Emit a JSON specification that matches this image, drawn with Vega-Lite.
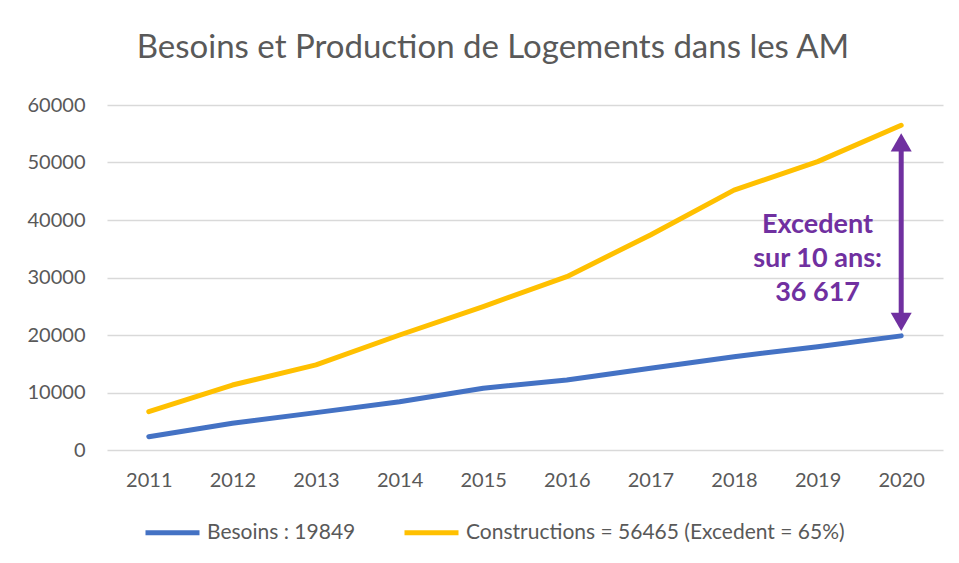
{
  "$schema": "https://vega.github.io/schema/vega-lite/v6.json",
  "autosize": "none",
  "width": 836,
  "height": 345,
  "padding": {"left": 107, "top": 105, "right": 16, "bottom": 113},
  "background": "white",
  "config": {
    "font": "Lato",
    "view": {"stroke": null},
    "axis": {"labelColor": "#595959", "labelFontSize": 20, "ticks": false, "domain": false, "gridColor": "#d9d9d9", "gridWidth": 1.5}
  },
  "title": {
    "text": "Besoins et Production de Logements dans les AM",
    "fontSize": 33,
    "fontWeight": "normal",
    "color": "#595959",
    "anchor": "middle",
    "baseline": "alphabetic",
    "offset": 4,
    "dx": -32
  },
  "datasets": {
    "series": [
      {"year": "2011", "serie": "Besoins : 19849", "value": 2310},
      {"year": "2012", "serie": "Besoins : 19849", "value": 4640},
      {"year": "2013", "serie": "Besoins : 19849", "value": 6500},
      {"year": "2014", "serie": "Besoins : 19849", "value": 8400},
      {"year": "2015", "serie": "Besoins : 19849", "value": 10750},
      {"year": "2016", "serie": "Besoins : 19849", "value": 12170},
      {"year": "2017", "serie": "Besoins : 19849", "value": 14200},
      {"year": "2018", "serie": "Besoins : 19849", "value": 16230},
      {"year": "2019", "serie": "Besoins : 19849", "value": 17970},
      {"year": "2020", "serie": "Besoins : 19849", "value": 19849},
      {"year": "2011", "serie": "Constructions = 56465 (Excedent = 65%)", "value": 6660},
      {"year": "2012", "serie": "Constructions = 56465 (Excedent = 65%)", "value": 11300},
      {"year": "2013", "serie": "Constructions = 56465 (Excedent = 65%)", "value": 14800},
      {"year": "2014", "serie": "Constructions = 56465 (Excedent = 65%)", "value": 20000},
      {"year": "2015", "serie": "Constructions = 56465 (Excedent = 65%)", "value": 24950},
      {"year": "2016", "serie": "Constructions = 56465 (Excedent = 65%)", "value": 30150},
      {"year": "2017", "serie": "Constructions = 56465 (Excedent = 65%)", "value": 37400},
      {"year": "2018", "serie": "Constructions = 56465 (Excedent = 65%)", "value": 45200},
      {"year": "2019", "serie": "Constructions = 56465 (Excedent = 65%)", "value": 50150},
      {"year": "2020", "serie": "Constructions = 56465 (Excedent = 65%)", "value": 56465}
    ],
    "arrow": [{"year": "2020", "from": 19849, "to": 56465}],
    "note": [{"year": "2019", "value": 39100, "label": "Excedent\nsur 10 ans:\n36 617"}]
  },
  "layer": [
    {
      "data": {"name": "series"},
      "mark": {"type": "line", "strokeWidth": 5, "strokeCap": "round", "strokeJoin": "round"},
      "encoding": {
        "x": {"field": "year", "type": "ordinal", "scale": {"type": "point", "padding": 0.5}, "axis": {"title": null, "labelAngle": 0, "labelPadding": 20, "grid": false}},
        "y": {"field": "value", "type": "quantitative", "scale": {"domain": [0, 60000], "nice": false}, "axis": {"title": null, "values": [0, 10000, 20000, 30000, 40000, 50000, 60000], "format": "d", "labelPadding": 22}},
        "color": {
          "field": "serie",
          "type": "nominal",
          "scale": {"domain": ["Besoins : 19849", "Constructions = 56465 (Excedent = 65%)"], "range": ["#4472C4", "#FFC000"]},
          "legend": {
            "title": null,
            "orient": "none",
            "direction": "horizontal",
            "legendX": 36,
            "legendY": 398,
            "symbolType": "stroke",
            "symbolSize": 2916,
            "symbolStrokeWidth": 5,
            "labelFontSize": 21,
            "labelLimit": 600,
            "labelColor": "#595959",
            "labelOffset": 5,
            "columnPadding": 38,
            "padding": 0
          }
        }
      }
    },
    {
      "data": {"name": "arrow"},
      "mark": {"type": "rule", "color": "#7030A0", "strokeWidth": 5, "yOffset": 17, "y2Offset": -14},
      "encoding": {
        "x": {"field": "year", "type": "ordinal"},
        "y": {"field": "to", "type": "quantitative"},
        "y2": {"field": "from"}
      }
    },
    {
      "data": {"name": "arrow"},
      "mark": {"type": "point", "shape": "triangle-up", "filled": true, "color": "#7030A0", "opacity": 1, "size": 441, "yOffset": 17},
      "encoding": {
        "x": {"field": "year", "type": "ordinal"},
        "y": {"field": "to", "type": "quantitative"}
      }
    },
    {
      "data": {"name": "arrow"},
      "mark": {"type": "point", "shape": "triangle-down", "filled": true, "color": "#7030A0", "opacity": 1, "size": 441, "yOffset": -14},
      "encoding": {
        "x": {"field": "year", "type": "ordinal"},
        "y": {"field": "from", "type": "quantitative"}
      }
    },
    {
      "data": {"name": "note"},
      "mark": {"type": "text", "color": "#7030A0", "fontWeight": "bold", "fontSize": 27, "lineBreak": "\n", "lineHeight": 34, "align": "center", "baseline": "middle"},
      "encoding": {
        "x": {"field": "year", "type": "ordinal"},
        "y": {"field": "value", "type": "quantitative"},
        "text": {"field": "label"}
      }
    }
  ]
}
